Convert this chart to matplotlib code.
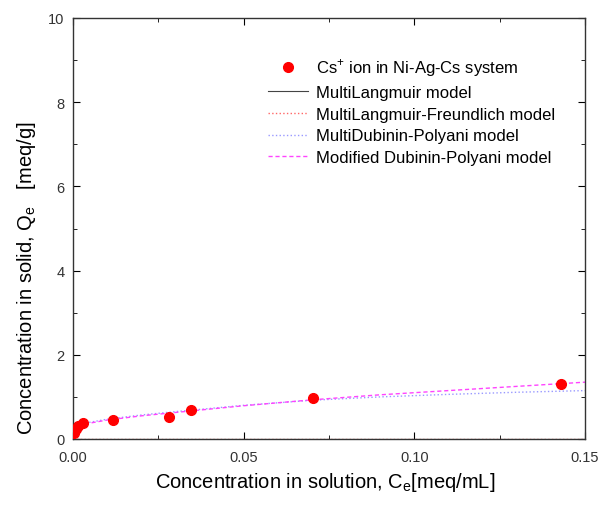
import matplotlib
matplotlib.use('Agg')
import matplotlib.pyplot as plt
from matplotlib.ticker import MultipleLocator

plt.rcParams['font.family'] = ['Liberation Sans', 'DejaVu Sans']
plt.rcParams['mathtext.fontset'] = 'custom'
plt.rcParams['mathtext.rm'] = 'Liberation Sans'

# Experimental data: Cs+ ion in Ni-Ag-Cs system
ce_exp = [0.0003, 0.0008, 0.0015, 0.0030, 0.0118, 0.0282, 0.0346, 0.0704, 0.1430]
qe_exp = [0.15, 0.24, 0.30, 0.39, 0.45, 0.52, 0.69, 0.98, 1.31]

# Model curves
ce_model = [0.0, 0.001, 0.003, 0.01, 0.02, 0.03, 0.05, 0.07, 0.09, 0.11, 0.13, 0.15]
q_langmuir = [0.0] * len(ce_model)
q_lang_freund = [0.0] * len(ce_model)
q_dubinin = [0.22, 0.31, 0.37, 0.47, 0.57, 0.65, 0.80, 0.92, 1.00, 1.06, 1.11, 1.15]
q_mod_dubinin = [0.20, 0.29, 0.35, 0.45, 0.55, 0.63, 0.79, 0.93, 1.05, 1.15, 1.25, 1.35]

xticks = [0, 0.05, 0.10, 0.15]
xticklabels = ['0.00', '0.05', '0.10', '0.15']

fig = plt.figure(figsize=(6.03, 5.06), dpi=100)
ax = fig.add_axes([73 / 603, 1 - 440 / 506, 512 / 603, 421 / 506])

ax.plot(ce_exp, qe_exp, 'o', color='red', markersize=7, label=r'Cs$^{+}$ ion in Ni-Ag-Cs system', zorder=5)
ax.plot(ce_model, q_langmuir, '-', color='#444444', linewidth=0.8, label='MultiLangmuir model')
ax.plot(ce_model, q_lang_freund, ':', color='#ff6666', linewidth=1.0, label='MultiLangmuir-Freundlich model')
ax.plot(ce_model, q_dubinin, ':', color='#9999ff', linewidth=1.0, label='MultiDubinin-Polyani model')
ax.plot(ce_model, q_mod_dubinin, '--', color='#ff44ff', linewidth=1.0, dashes=(3, 2), label='Modified Dubinin-Polyani model')

ax.set_xlim(0, 0.15)
ax.set_ylim(0, 10)
ax.set_xticks(xticks)
ax.set_xticklabels(xticklabels)
ax.xaxis.set_minor_locator(MultipleLocator(0.025))
ax.yaxis.set_major_locator(MultipleLocator(2))
ax.yaxis.set_minor_locator(MultipleLocator(1))
ax.tick_params(which='both', direction='in', top=True, right=True, labelsize=10.5, labelcolor='#333333')
ax.tick_params(axis='x', which='major', pad=8)
ax.tick_params(axis='y', which='major', pad=6)
ax.tick_params(which='major', length=5)
ax.tick_params(which='minor', length=3)
for sp in ax.spines.values():
    sp.set_linewidth(1.0)
    sp.set_color('#333333')

ax.set_xlabel(r'Concentration in solution, C$_\mathrm{e}$[meq/mL]', fontsize=14.5)
ax.set_ylabel(r'Concentration in solid, Q$_\mathrm{e}$   [meq/g]', fontsize=14.5)
ax.xaxis.label.set_ha('left')
ax.xaxis.label.set_va('center')
ax.xaxis.set_label_coords(0.16, -0.102)
ax.yaxis.label.set_ha('left')
ax.yaxis.set_label_coords(-0.068, 0.012)

ax.legend(loc='upper right', bbox_to_anchor=(0.955, 0.924), frameon=False, fontsize=12,
          handlelength=2.4, handletextpad=0.5, labelspacing=0.4, numpoints=1,
          borderaxespad=0)

fig.savefig('out.png', dpi=100)
